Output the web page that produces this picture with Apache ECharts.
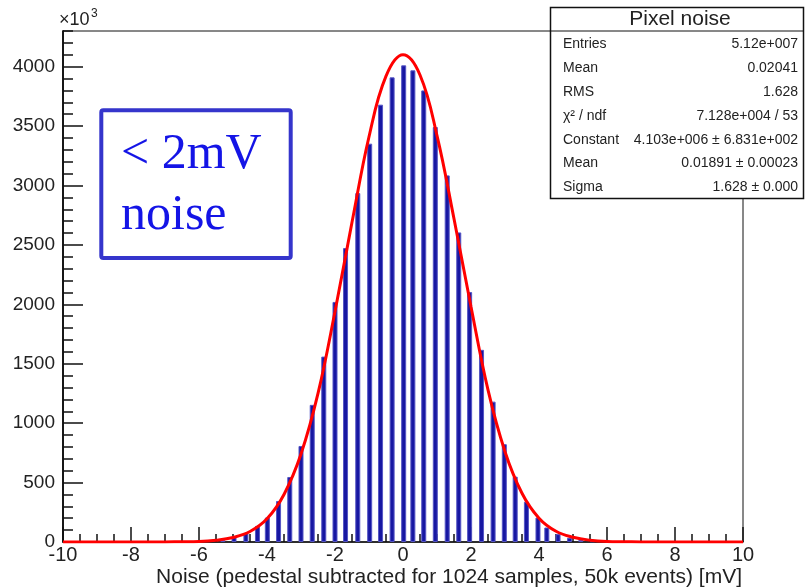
<!DOCTYPE html>
<html>
<head>
<meta charset="utf-8">
<script src="https://cdn.jsdelivr.net/npm/echarts@6.0.0/dist/echarts.min.js"></script>
<style>
html, body { margin: 0; padding: 0; background: #fff; }
#main { width: 805px; height: 588px; }
</style>
</head>
<body>
<div id="main"></div>
<script>
// histogram bins: position (mV) and counts (x10^3)
var binX = [-5.30, -4.97, -4.62, -4.28, -3.99, -3.66, -3.33, -3.00, -2.67, -2.33, -2.00,
            -1.69, -1.33, -0.98, -0.66, -0.32, 0.02, 0.29, 0.61, 0.95, 1.30, 1.64, 1.96,
            2.31, 2.65, 2.98, 3.30, 3.63, 3.97, 4.23, 4.56, 4.90, 5.23, 5.57];
var binY = [15, 42, 75, 135, 206, 345, 547, 808, 1154, 1560, 2020,
            2473, 2936, 3352, 3680, 3910, 4011, 3969, 3800, 3492, 3085, 2605, 2103,
            1617, 1181, 823, 550, 339, 206, 122, 66, 36, 17, 6];

// red fit curve, read at points along it
var fitX = [-10, -8, -7, -6, -5.5, -5, -4.5, -4, -3.5, -3, -2.5, -2, -1.5, -1, -0.5, 0,
            0.5, 1, 1.5, 2, 2.5, 3, 3.5, 4, 4.5, 5, 5.5, 6, 7, 8, 10];
var fitY = [0, 0, 1, 5, 15, 38, 88, 195, 400, 740, 1250, 1940, 2690, 3410, 3920, 4100,
            3930, 3420, 2720, 1980, 1280, 760, 410, 200, 90, 40, 15, 5, 1, 0, 0];

var statLabels = ['Entries', 'Mean', 'RMS', 'χ² / ndf', 'Constant', 'Mean', 'Sigma'];
var statValues = ['5.12e+007', '0.02041', '1.628', '7.128e+004 / 53',
                  '4.103e+006 ± 6.831e+002', '0.01891 ± 0.00023', '1.628 ± 0.000'];

var chart = echarts.init(document.getElementById('main'));

var axisColor = '#111';
var textColor = '#222';
var sans = 'Liberation Sans, Arial, sans-serif';
var serif = 'Liberation Serif, Times New Roman, serif';

// stats box (top right)
var graphics = [
  { type: 'rect', shape: { x: 550.5, y: 7.5, width: 253, height: 191 },
    style: { fill: '#fff', stroke: '#111', lineWidth: 1.5 }, z: 100 },
  { type: 'line', shape: { x1: 550.5, y1: 31, x2: 803.5, y2: 31 },
    style: { stroke: '#111', lineWidth: 1 }, z: 101 },
  { type: 'text', x: 680, y: 19, z: 101,
    style: { text: 'Pixel noise', font: '21px ' + sans, fill: textColor,
             align: 'center', verticalAlign: 'middle' } }
];
for (var i = 0; i < statLabels.length; i++) {
  var yy = 44.5 + i * 23.8;
  graphics.push({ type: 'text', x: 563, y: yy, z: 101,
    style: { text: statLabels[i], font: '14px ' + sans, fill: textColor,
             align: 'left', verticalAlign: 'middle' } });
  graphics.push({ type: 'text', x: 798, y: yy, z: 101,
    style: { text: statValues[i], font: '14px ' + sans, fill: textColor,
             align: 'right', verticalAlign: 'middle' } });
}

// blue annotation box
graphics.push(
  { type: 'rect', shape: { x: 101.3, y: 110.3, width: 189.4, height: 147.7, r: 2 },
    style: { fill: '#fff', stroke: '#3535cc', lineWidth: 4 }, z: 100 },
  { type: 'text', x: 121, y: 155, z: 101,
    style: { text: '< 2mV', font: '50px ' + serif, fill: '#1414e6',
             align: 'left', verticalAlign: 'middle' } },
  { type: 'text', x: 121, y: 216, z: 101,
    style: { text: 'noise', font: '50px ' + serif, fill: '#1414e6',
             align: 'left', verticalAlign: 'middle' } }
);

// y multiplier and x title
graphics.push(
  { type: 'text', x: 59, y: 20, z: 101,
    style: { text: '×10', font: '18px ' + sans, fill: textColor, align: 'left', verticalAlign: 'middle' } },
  { type: 'text', x: 91, y: 14, z: 101,
    style: { text: '3', font: '12px ' + sans, fill: textColor, align: 'left', verticalAlign: 'middle' } },
  { type: 'text', x: 742, y: 577, z: 101,
    style: { text: 'Noise (pedestal subtracted for 1024 samples, 50k events) [mV]',
             font: '21px ' + sans, fill: textColor, align: 'right', verticalAlign: 'middle' } }
);

function plain(v) { return String(v); }

var option = {
  animation: false,
  backgroundColor: '#fff',
  grid: { left: 63, right: 62, top: 31, bottom: 46, show: true,
          borderColor: axisColor, borderWidth: 1, backgroundColor: 'transparent' },
  xAxis: {
    type: 'value', min: -10, max: 10, interval: 2,
    axisLine: { onZero: false, lineStyle: { color: axisColor, width: 1.5 } },
    axisTick: { inside: true, length: 15, lineStyle: { color: axisColor, width: 1.5 } },
    minorTick: { show: true, splitNumber: 4, length: 8, lineStyle: { color: axisColor, width: 1.5 } },
    axisLabel: { fontSize: 20, fontFamily: sans, color: textColor, margin: 3, formatter: plain },
    splitLine: { show: false }
  },
  yAxis: [
    {
      type: 'value', min: 0, max: 4300, interval: 100, position: 'left',
      axisLine: { show: true, onZero: false, lineStyle: { color: axisColor, width: 1.5 } },
      axisTick: { inside: true, length: 10, lineStyle: { color: axisColor, width: 1.5 } },
      axisLabel: { show: false },
      splitLine: { show: false }
    },
    {
      type: 'value', min: 0, max: 4300, interval: 500, position: 'left',
      axisLine: { show: true, onZero: false, lineStyle: { color: axisColor, width: 1.5 } },
      axisTick: { inside: true, length: 20, lineStyle: { color: axisColor, width: 1.5 } },
      axisLabel: { fontSize: 19, fontFamily: sans, color: textColor, margin: 8,
                   showMaxLabel: false, formatter: plain },
      splitLine: { show: false }
    }
  ],
  series: [
    {
      type: 'bar', yAxisIndex: 1, barWidth: 5,
      itemStyle: { color: '#1717a2', borderColor: '#5555c4', borderWidth: 1 },
      data: binX.map(function (x, i) { return [x, binY[i]]; })
    },
    {
      type: 'line', yAxisIndex: 1, smooth: 0.4, showSymbol: false, z: 5,
      lineStyle: { color: '#ff0000', width: 3 },
      data: fitX.map(function (x, i) { return [x, fitY[i]]; })
    }
  ],
  graphic: graphics
};

chart.setOption(option);
</script>
</body>
</html>
